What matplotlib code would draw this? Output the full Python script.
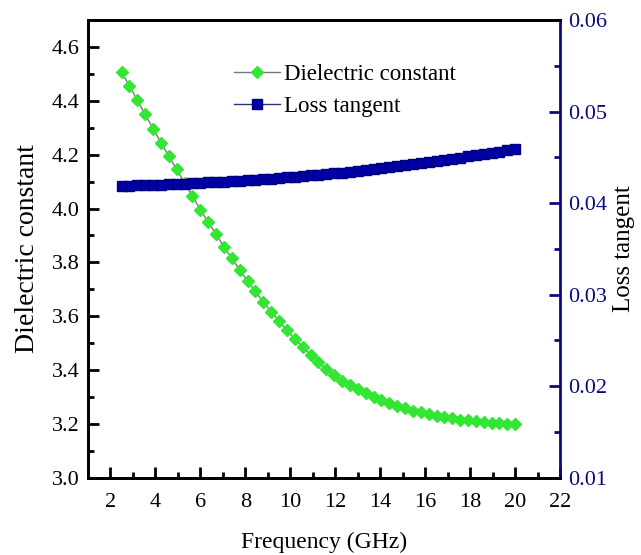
import matplotlib
matplotlib.use("Agg")
import matplotlib.pyplot as plt
from matplotlib.ticker import MultipleLocator

plt.rcParams['font.family'] = ['Liberation Serif', 'DejaVu Serif']

frequency = [2.50, 2.85, 3.20, 3.55, 3.90, 4.25, 4.60, 4.95, 5.30, 5.65,
             6.00, 6.35, 6.70, 7.05, 7.40, 7.75, 8.10, 8.45, 8.80, 9.15,
             9.50, 9.85, 10.20, 10.55, 10.90, 11.25, 11.60, 11.95, 12.30, 12.65,
             13.00, 13.35, 13.70, 14.05, 14.40, 14.75, 15.10, 15.45, 15.80, 16.15,
             16.50, 16.85, 17.20, 17.55, 17.90, 18.25, 18.60, 18.95, 19.30, 19.65,
             20.00]

dielectric_constant = [4.506, 4.455, 4.402, 4.350, 4.297, 4.245, 4.194, 4.145, 4.095, 4.046,
                       3.996, 3.950, 3.905, 3.858, 3.815, 3.773, 3.731, 3.692, 3.654, 3.617,
                       3.582, 3.548, 3.516, 3.486, 3.457, 3.429, 3.404, 3.382, 3.361, 3.345,
                       3.329, 3.314, 3.302, 3.290, 3.279, 3.268, 3.259, 3.250, 3.243, 3.236,
                       3.230, 3.225, 3.221, 3.216, 3.213, 3.210, 3.207, 3.204, 3.202, 3.200,
                       3.199]

loss_tangent = [0.04190, 0.04192, 0.04195, 0.04197, 0.04200, 0.04203, 0.04206, 0.04210, 0.04214, 0.04218,
                0.04222, 0.04226, 0.04230, 0.04235, 0.04240, 0.04245, 0.04250, 0.04256, 0.04262, 0.04268,
                0.04274, 0.04281, 0.04288, 0.04295, 0.04302, 0.04310, 0.04318, 0.04326, 0.04334, 0.04343,
                0.04352, 0.04361, 0.04370, 0.04380, 0.04391, 0.04402, 0.04413, 0.04424, 0.04436, 0.04448,
                0.04460, 0.04472, 0.04485, 0.04498, 0.04511, 0.04524, 0.04537, 0.04550, 0.04563, 0.04576,
                0.04589]

x_ticks = [2, 4, 6, 8, 10, 12, 14, 16, 18, 20, 22]
left_ticks = [3.0, 3.2, 3.4, 3.6, 3.8, 4.0, 4.2, 4.4, 4.6]
right_ticks = [0.01, 0.02, 0.03, 0.04, 0.05, 0.06]

NAVY = '#0a0a80'
GREEN = '#33e633'

fig = plt.figure(figsize=(6.41, 5.55), dpi=100)
ax = fig.add_axes([0.137, 0.139, 0.737, 0.825])
ax2 = ax.twinx()

l1, = ax.plot(frequency, dielectric_constant, color='#777777', lw=1.0,
              marker='D', markersize=6.5, markerfacecolor=GREEN,
              markeredgecolor=GREEN, label='Dielectric constant', zorder=3)
l2, = ax2.plot(frequency, loss_tangent, color='#303070', lw=1.0,
               marker='s', markersize=6.5, markerfacecolor='#0000a8',
               markeredgecolor='#000080', label='Loss tangent', zorder=3)

ax.set_xlim(1, 22)
ax.set_ylim(3.0, 4.7)
ax2.set_ylim(0.01, 0.06)

ax.set_xticks(x_ticks)
ax.set_yticks(left_ticks)
ax2.set_yticks(right_ticks)
ax.xaxis.set_minor_locator(MultipleLocator(1))
ax.yaxis.set_minor_locator(MultipleLocator(0.1))
ax2.yaxis.set_minor_locator(MultipleLocator(0.005))
ax.set_yticklabels([f'{v:.1f}' for v in left_ticks])
ax2.set_yticklabels([f'{v:.2f}' for v in right_ticks])

fs = 16
ax.tick_params(axis='both', which='major', direction='in', length=8, width=2,
               labelsize=fs, pad=6)
ax.tick_params(axis='x', which='major', pad=11)
ax.tick_params(axis='both', which='minor', direction='in', length=4, width=2)
ax.tick_params(axis='x', which='both', top=False)
ax2.tick_params(axis='y', which='major', direction='in', length=8, width=2,
                labelsize=fs, colors=NAVY, pad=6)
ax2.tick_params(axis='y', which='minor', direction='in', length=4, width=2,
                colors=NAVY)

for s in ['left', 'bottom', 'top']:
    ax.spines[s].set_linewidth(2)
    ax2.spines[s].set_linewidth(2)
ax2.spines['right'].set_linewidth(2)
ax2.spines['right'].set_color(NAVY)
ax.spines['right'].set_visible(False)

ax.set_xlabel('Frequency (GHz)', fontsize=17, labelpad=14)
ax.set_ylabel('Dielectric constant', fontsize=20, labelpad=8)
ax2.set_ylabel('Loss tangent', fontsize=18, labelpad=4)

leg = ax.legend(handles=[l1, l2], loc='upper left', bbox_to_anchor=(0.29, 0.925),
                frameon=False, fontsize=16.5, handlelength=2.0, handletextpad=0.2,
                labelspacing=0.5, borderaxespad=0)

fig.savefig('out.png', dpi=100)
